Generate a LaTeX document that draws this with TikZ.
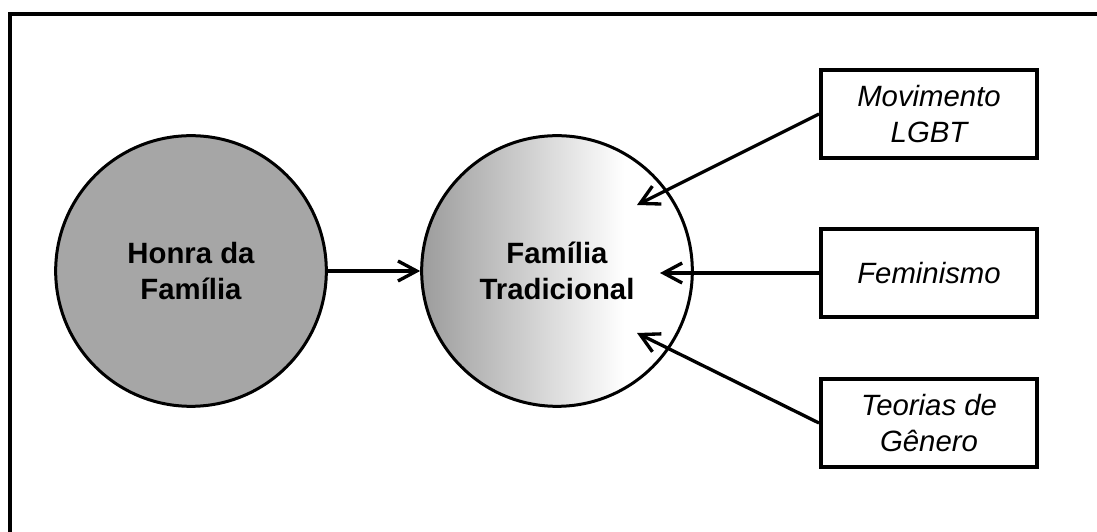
\documentclass[tikz,border=0pt]{standalone}
\usepackage{fontspec}
\setmainfont{Liberation Sans}
\usetikzlibrary{arrows.meta, positioning}
\definecolor{honragray}{HTML}{A6A6A6}
\definecolor{famgray}{HTML}{9C9C9C}
\pgfdeclarehorizontalshading{famfade}{100bp}{color(0bp)=(famgray); color(25bp)=(famgray); color(62.5bp)=(white); color(100bp)=(white)}

\begin{document}
\begin{tikzpicture}[x=0.75pt, y=0.75pt,
    circ/.style={circle, draw=black, line width=2.25pt, minimum size=203pt, inner sep=0pt, align=center, font=\fontsize{22}{26.5}\selectfont\bfseries},
    box/.style={rectangle, draw=black, line width=3pt, minimum width=162pt, minimum height=66pt, inner sep=0pt, align=center, font=\fontsize{22}{26.5}\selectfont\itshape},
    arr/.style={-{Straight Barb[length=14pt, width=15pt]}, line width=2.5pt}
]
\useasboundingbox (0,0) rectangle (1097,532);
% outer frame (left and top only)
\draw[line width=3pt] (10,0) -- (10,518) -- (1100,518);

% circles
\node[circ, fill=honragray] (honra) at (191,261) {Honra da\\Família};
\node[circ, shading=famfade] (familia) at (557,261) {Família\\Tradicional};

% influence boxes
\node[box] (lgbt) at (929,418) {Movimento\\LGBT};
\node[box] (fem) at (929,259) {Feminismo};
\node[box] (teo) at (929,109) {Teorias de\\Gênero};

% arrow tips inside the circle
\coordinate (tipL) at (637,327);
\coordinate (tipF) at (660,259);
\coordinate (tipT) at (637,199);

% arrows
\draw[arr] (honra.east) -- (familia.west);
\draw[arr] (lgbt.west) -- (tipL);
\draw[arr] (fem.west) -- (tipF);
\draw[arr] (teo.west) -- (tipT);
\end{tikzpicture}
\end{document}
